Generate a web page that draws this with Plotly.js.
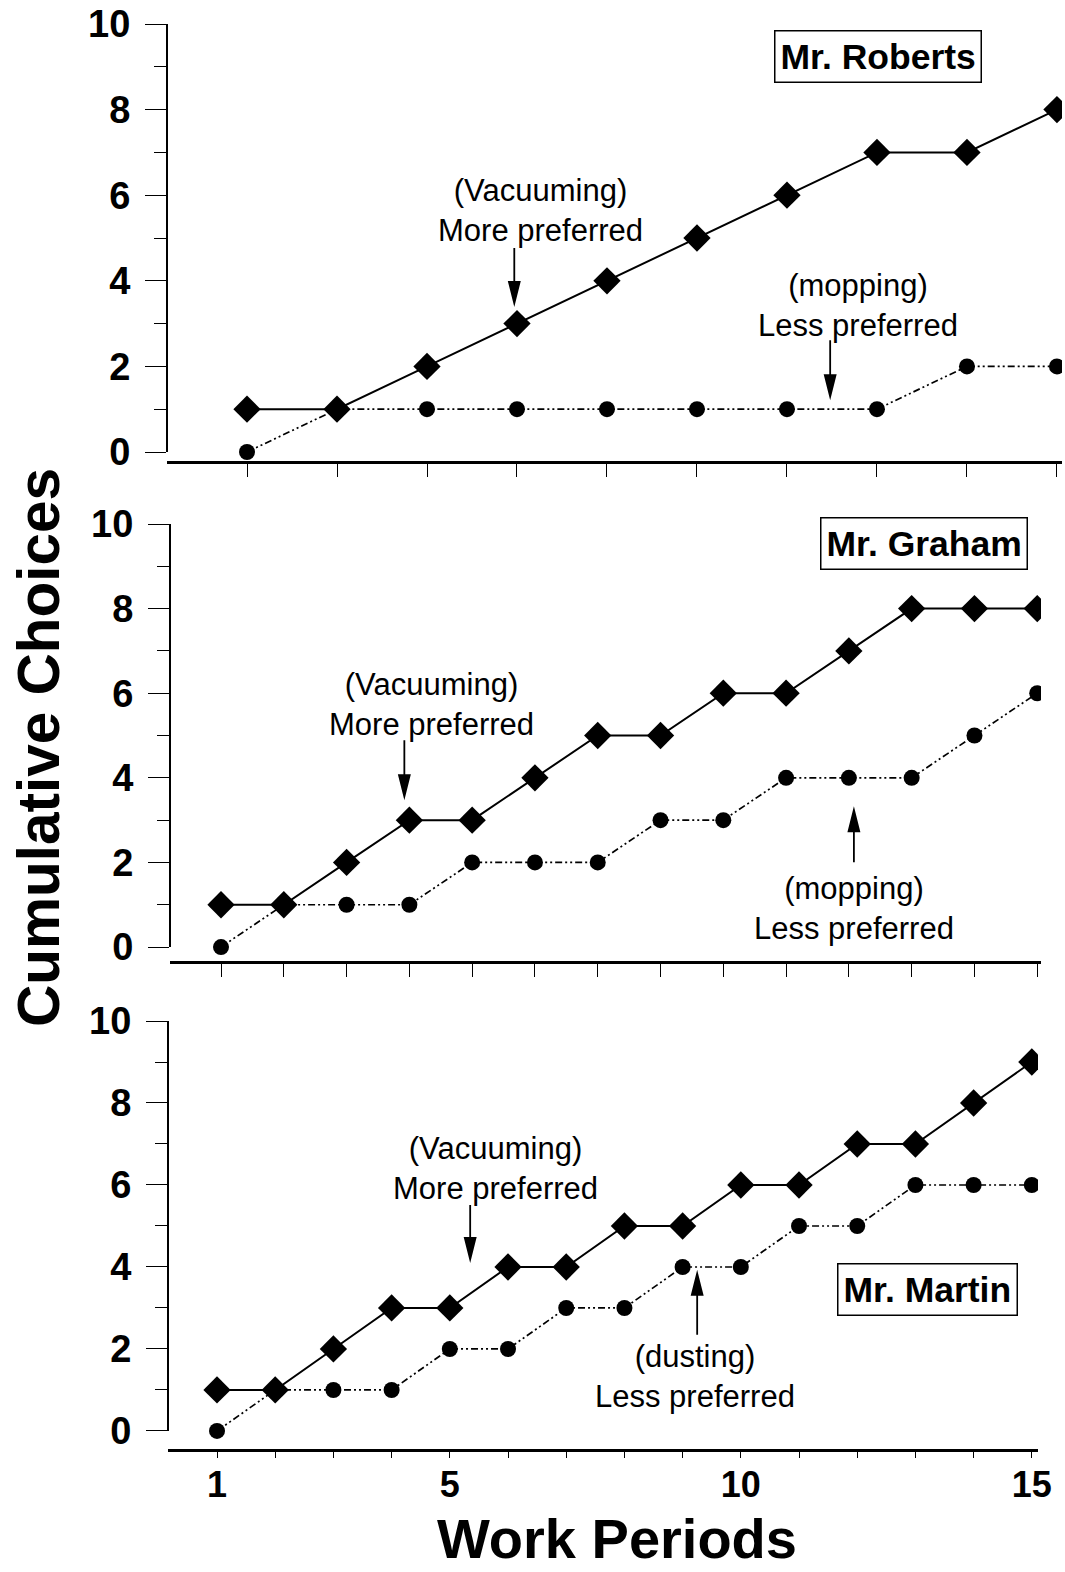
<!DOCTYPE html>
<html>
<head>
<meta charset="utf-8">
<script src="https://cdn.plot.ly/plotly-3.0.1.min.js"></script>
<style>html,body{margin:0;padding:0;background:#fff;}#chart{width:1065px;height:1572px;}</style>
</head>
<body>
<div id="chart"></div>
<script>
// ---------- data ----------
const periodsRoberts = [1, 2, 3, 4, 5, 6, 7, 8, 9, 10];
const robertsMore    = [1, 1, 2, 3, 4, 5, 6, 7, 7, 8];
const robertsLess    = [0, 1, 1, 1, 1, 1, 1, 1, 2, 2];

const periodsGraham = [1, 2, 3, 4, 5, 6, 7, 8, 9, 10, 11, 12, 13, 14];
const grahamMore    = [1, 1, 2, 3, 3, 4, 5, 5, 6, 6, 7, 8, 8, 8];
const grahamLess    = [0, 1, 1, 1, 2, 2, 2, 3, 3, 4, 4, 4, 5, 6];

const periodsMartin = [1, 2, 3, 4, 5, 6, 7, 8, 9, 10, 11, 12, 13, 14, 15];
const martinMore    = [1, 1, 2, 3, 3, 4, 4, 5, 5, 6, 6, 7, 7, 8, 9];
const martinLess    = [0, 1, 1, 1, 2, 2, 3, 3, 4, 4, 5, 5, 6, 6, 6];

const martinTickText = ["1", "", "", "", "5", "", "", "", "", "10", "", "", "", "", "15"];
const yTickVals = [0, 2, 4, 6, 8, 10];
const yMinorVals = [1, 3, 5, 7, 9];

const participantNames = ["Mr. Roberts", "Mr. Graham", "Mr. Martin"];
const moreLabels = ["(Vacuuming)<br>More preferred", "(Vacuuming)<br>More preferred", "(Vacuuming)<br>More preferred"];
const lessLabels = ["(mopping)<br>Less preferred", "(mopping)<br>Less preferred", "(dusting)<br>Less preferred"];

// ---------- styling ----------
const FONT = "Liberation Sans, Arial, Helvetica, sans-serif";
const W = 1065, H = 1572;
const px = v => v / W;
const py = v => 1 - v / H;

function lessTrace(x, y, xa, ya) {
  return {
    x: x, y: y, xaxis: xa, yaxis: ya, type: 'scatter', mode: 'lines+markers',
    line: {color: 'black', width: 1.7, dash: '7px,3px,2px,3px,2px,3px'},
    marker: {symbol: 'circle', size: 16, color: 'black'},
    hoverinfo: 'x+y'
  };
}
function moreTrace(x, y, xa, ya) {
  return {
    x: x, y: y, xaxis: xa, yaxis: ya, type: 'scatter', mode: 'lines+markers',
    line: {color: 'black', width: 2},
    marker: {symbol: 'diamond', size: 21, color: 'black'},
    hoverinfo: 'x+y'
  };
}

const traces = [
  lessTrace(periodsRoberts, robertsLess, 'x', 'y'),
  moreTrace(periodsRoberts, robertsMore, 'x', 'y'),
  lessTrace(periodsGraham, grahamLess, 'x2', 'y2'),
  moreTrace(periodsGraham, grahamMore, 'x2', 'y2'),
  lessTrace(periodsMartin, martinLess, 'x3', 'y3'),
  moreTrace(periodsMartin, martinMore, 'x3', 'y3')
];

function yAxis(anchor, domain, range) {
  return {
    anchor: anchor, domain: domain, range: range,
    showline: false, showgrid: false, zeroline: false,
    ticks: 'outside', ticklen: 21, tickwidth: 1, tickcolor: 'black',
    tickvals: yTickVals, ticklabelstandoff: 7,
    tickfont: {family: FONT, size: 38, weight: 'bold', color: 'black'},
    minor: {tickvals: yMinorVals, ticks: 'outside', ticklen: 12, tickwidth: 1, tickcolor: 'black'},
    fixedrange: true
  };
}
function xAxis(anchor, domain, range, vals, opts) {
  return Object.assign({
    anchor: anchor, domain: domain, range: range,
    showline: true, linewidth: 2.5, linecolor: 'black',
    showgrid: false, zeroline: false,
    ticks: 'outside', ticklen: 13, tickwidth: 1, tickcolor: 'black',
    tickvals: vals, showticklabels: false, fixedrange: true
  }, opts || {});
}

function yLine(xr, yr) {
  return {type: 'line', xref: xr + ' domain', yref: yr, x0: 0, x1: 0, y0: 0, y1: 10,
          line: {color: 'black', width: 2}};
}
function arrow(xr, yr, xv, yv, dir, len) {
  const h = 26, w = 6.5, s = 0.9, d = dir;
  const path = 'M0,0 L' + (-w) + ',' + (d * h) + ' L' + (-s) + ',' + (d * h) + ' L' + (-s) + ',' + (d * len) +
               ' L' + s + ',' + (d * len) + ' L' + s + ',' + (d * h) + ' L' + w + ',' + (d * h) + ' Z';
  return {type: 'path', xref: xr, yref: yr, xsizemode: 'pixel', ysizemode: 'pixel',
          xanchor: xv, yanchor: yv, path: path, fillcolor: 'black', line: {width: 0}};
}
function note(xr, yr, x, y, text) {
  return {xref: xr, yref: yr, x: x, y: y, text: text, showarrow: false,
          xanchor: 'center', yanchor: 'middle', align: 'center',
          font: {family: FONT, size: 31, color: 'black'}};
}
function nameBox(xr, yr, x, y, text) {
  return {xref: xr, yref: yr, x: x, y: y, text: text, showarrow: false,
          xanchor: 'center', yanchor: 'middle',
          bgcolor: 'white', bordercolor: 'black', borderwidth: 1.5, borderpad: 5,
          font: {family: FONT, size: 35.5, weight: 'bold', color: 'black'}};
}

const layout = {
  width: W, height: H,
  margin: {l: 0, r: 0, t: 0, b: 0},
  paper_bgcolor: 'white', plot_bgcolor: 'white',
  showlegend: false,
  font: {family: FONT, color: 'black'},
  xaxis:  xAxis('y',  [px(167), px(1062)], [0.111, 10.056], periodsRoberts),
  yaxis:  yAxis('x',  [py(461), py(24)],   [-0.21, 10]),
  xaxis2: xAxis('y2', [px(170), px(1041)], [0.1875, 14.06], periodsGraham),
  yaxis2: yAxis('x2', [py(961), py(524)],  [-0.33, 10]),
  xaxis3: xAxis('y3', [px(168), px(1038)], [0.158, 15.106], periodsMartin,
                {ticklen: 6, showticklabels: true, ticktext: martinTickText, ticklabelstandoff: -4,
                 tickfont: {family: FONT, size: 36, weight: 'bold', color: 'black'}}),
  yaxis3: yAxis('x3', [py(1449), py(1021)], [-0.44, 10]),
  shapes: [
    yLine('x', 'y'), yLine('x2', 'y2'), yLine('x3', 'y3'),
    arrow('x', 'y', 3.97, 3.39, 1, 59),
    arrow('x', 'y', 7.48, 1.21, 1, 60),
    arrow('x2', 'y2', 3.92, 3.47, 1, 60),
    arrow('x2', 'y2', 11.08, 3.33, -1, 56),
    arrow('x3', 'y3', 5.35, 4.1, 1, 58),
    arrow('x3', 'y3', 9.25, 3.93, -1, 65)
  ],
  annotations: [
    note('x', 'y', 4.26, 5.65, moreLabels[0]),
    note('x', 'y', 7.79, 3.43, lessLabels[0]),
    note('x2', 'y2', 4.36, 5.74, moreLabels[1]),
    note('x2', 'y2', 11.08, 0.90, lessLabels[1]),
    note('x3', 'y3', 5.79, 6.41, moreLabels[2]),
    note('x3', 'y3', 9.21, 1.34, lessLabels[2]),
    nameBox('x', 'y', 8.01, 9.23, participantNames[0]),
    nameBox('x2', 'y2', 12.2, 9.55, participantNames[1]),
    nameBox('x3', 'y3', 13.2, 3.44, participantNames[2]),
    {xref: 'paper', yref: 'paper', x: px(38), y: py(748), text: 'Cumulative Choices',
     textangle: -90, showarrow: false, xanchor: 'center', yanchor: 'middle',
     font: {family: FONT, size: 58.5, weight: 'bold', color: 'black'}},
    {xref: 'paper', yref: 'paper', x: px(617), y: 0, text: 'Work Periods',
     showarrow: false, xanchor: 'center', yanchor: 'bottom',
     font: {family: FONT, size: 56, weight: 'bold', color: 'black'}}
  ]
};

Plotly.newPlot('chart', traces, layout, {displayModeBar: false, staticPlot: true});
</script>
</body>
</html>
